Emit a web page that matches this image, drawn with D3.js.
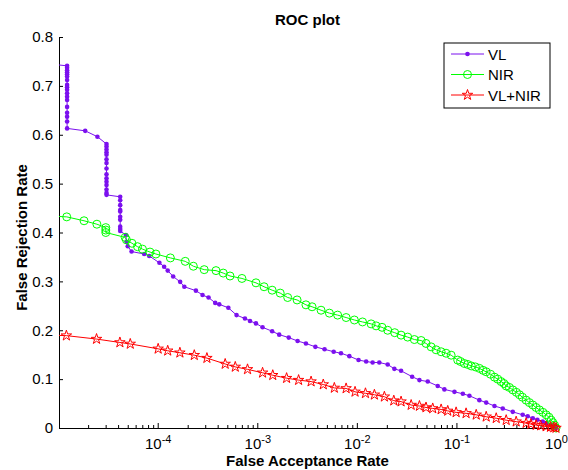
<!DOCTYPE html>
<html>
<head>
<meta charset="utf-8">
<script src="https://cdn.jsdelivr.net/npm/d3@7"></script>
<style>
  body { margin: 0; background: #fff; }
  svg { display: block; font-family: "Liberation Sans", Arial, sans-serif; }
</style>
</head>
<body>
<script>
// ---- data ----
var vlFar = [8e-6,
  1.23e-5, 1.23e-5, 1.23e-5, 1.23e-5, 1.23e-5, 1.23e-5, 1.23e-5, 1.23e-5, 1.23e-5,
  1.23e-5, 1.23e-5, 1.23e-5, 1.23e-5, 1.23e-5, 1.23e-5, 1.23e-5, 1.23e-5, 1.23e-5,
  1.87e-5, 2.48e-5,
  3.06e-5, 3.06e-5, 3.06e-5, 3.06e-5, 3.06e-5, 3.06e-5, 3.06e-5, 3.06e-5, 3.06e-5,
  3.06e-5, 3.06e-5, 3.06e-5, 3.06e-5, 3.06e-5, 3.06e-5,
  4.2e-5, 4.2e-5, 4.2e-5, 4.2e-5, 4.2e-5, 4.2e-5, 4.2e-5, 4.2e-5, 4.2e-5, 4.2e-5,
  4.79e-5, 4.86e-5, 5.0e-5, 5.46e-5, 7.31e-5, 8.22e-5, 1.04e-4, 1.16e-4, 1.26e-4,
  1.43e-4, 1.68e-4, 1.85e-4, 2.42e-4, 2.82e-4, 3.24e-4, 3.78e-4, 4.15e-4, 5.12e-4,
  6.19e-4, 7.52e-4, 8.45e-4, 9.7e-4, 1.13e-3, 1.41e-3, 1.66e-3, 2.07e-3, 2.54e-3,
  3.08e-3, 3.83e-3, 4.74e-3, 5.85e-3, 6.93e-3, 8.41e-3, 1.04e-2, 1.24e-2, 1.44e-2,
  1.68e-2, 2.04e-2, 2.38e-2, 2.78e-2, 3.59e-2, 4.25e-2, 5.15e-2, 6.49e-2, 7.57e-2,
  9.55e-2, 0.116, 0.135, 0.170, 0.199, 0.241, 0.292, 0.368, 0.463, 0.52, 0.585,
  0.65, 0.736, 0.8, 0.895, 0.93, 0.966, 1];
var vlFrr = [0.745,
  0.741, 0.737, 0.732, 0.728, 0.724, 0.719, 0.712, 0.702, 0.697,
  0.692, 0.685, 0.678, 0.671, 0.657, 0.645, 0.637, 0.627, 0.613,
  0.608, 0.596,
  0.581, 0.576, 0.570, 0.564, 0.559, 0.550, 0.542, 0.531, 0.519,
  0.511, 0.504, 0.497, 0.488, 0.481, 0.477,
  0.473, 0.466, 0.456, 0.446, 0.443, 0.432, 0.426, 0.412, 0.407, 0.403,
  0.395, 0.381, 0.372, 0.361, 0.356, 0.352, 0.338, 0.330, 0.322,
  0.310, 0.299, 0.289, 0.281, 0.272, 0.267, 0.256, 0.253, 0.246,
  0.231, 0.224, 0.219, 0.214, 0.206, 0.198, 0.191, 0.185, 0.178,
  0.173, 0.166, 0.161, 0.156, 0.153, 0.147, 0.139, 0.136, 0.134,
  0.134, 0.130, 0.121, 0.117, 0.105, 0.098, 0.095, 0.086, 0.079,
  0.074, 0.070, 0.066, 0.057, 0.052, 0.045, 0.040, 0.033, 0.027, 0.024, 0.020,
  0.017, 0.013, 0.010, 0.006, 0.004, 0.002, 0];

var nirFar = [8e-6,
  1.22e-5, 1.82e-5, 2.45e-5, 3.01e-5, 3.01e-5, 3.01e-5, 4.71e-5, 4.85e-5, 5.51e-5,
  6.27e-5, 7.03e-5, 8.36e-5, 9.59e-5, 1.34e-4, 1.89e-4, 2.28e-4, 2.93e-4, 3.85e-4,
  4.55e-4, 5.32e-4, 7.01e-4, 9.7e-4, 1.17e-3, 1.41e-3, 1.70e-3, 2.02e-3, 2.51e-3,
  3.08e-3, 3.55e-3, 4.37e-3, 5.30e-3, 6.41e-3, 7.80e-3, 9.44e-3, 1.14e-2, 1.39e-2,
  1.56e-2, 1.79e-2, 2.04e-2, 2.4e-2, 2.78e-2, 3.24e-2, 3.78e-2, 4.42e-2, 4.95e-2,
  5.57e-2, 6.25e-2, 7.02e-2, 7.87e-2, 8.85e-2, 0.103, 0.11, 0.120, 0.13, 0.141,
  0.155, 0.170, 0.185, 0.199, 0.22, 0.241, 0.26, 0.281, 0.30, 0.316, 0.34, 0.368,
  0.40, 0.430, 0.46, 0.501, 0.54, 0.585, 0.63, 0.682, 0.74, 0.796, 0.85, 0.895,
  0.93, 0.966, 1];
var nirFrr = [0.434,
  0.432, 0.424, 0.417, 0.410, 0.405, 0.400, 0.390, 0.385, 0.378,
  0.371, 0.366, 0.360, 0.356, 0.348, 0.341, 0.331, 0.324, 0.322,
  0.317, 0.311, 0.306, 0.297, 0.289, 0.282, 0.276, 0.267, 0.262,
  0.252, 0.248, 0.241, 0.235, 0.231, 0.226, 0.221, 0.217, 0.213,
  0.209, 0.206, 0.200, 0.195, 0.190, 0.186, 0.181, 0.179, 0.173,
  0.166, 0.160, 0.156, 0.153, 0.149, 0.139, 0.136, 0.132, 0.130, 0.127,
  0.125, 0.122, 0.118, 0.115, 0.110, 0.104, 0.100, 0.095, 0.091, 0.086, 0.083, 0.078,
  0.073, 0.068, 0.063, 0.057, 0.052, 0.047, 0.042, 0.037, 0.032, 0.027, 0.022, 0.016,
  0.011, 0.006, 0];

var fusedFar = [8e-6,
  1.21e-5, 2.43e-5, 4.17e-5, 5.30e-5, 1.01e-4, 1.26e-4, 1.67e-4, 2.33e-4, 3.12e-4,
  4.76e-4, 6.01e-4, 7.98e-4, 1.13e-3, 1.43e-3, 1.97e-3, 2.60e-3, 3.47e-3, 4.60e-3,
  5.94e-3, 7.80e-3, 9.59e-3, 1.22e-2, 1.50e-2, 1.89e-2, 2.35e-2, 2.78e-2, 3.51e-2,
  4.25e-2, 4.95e-2, 5.78e-2, 7.02e-2, 8.18e-2, 9.93e-2, 0.125, 0.158, 0.199, 0.251,
  0.316, 0.398, 0.501, 0.56, 0.632, 0.7, 0.796, 0.88, 0.95, 1];
var fusedFrr = [0.190,
  0.189, 0.182, 0.175, 0.172, 0.162, 0.158, 0.154, 0.149, 0.143,
  0.131, 0.125, 0.120, 0.113, 0.108, 0.102, 0.098, 0.095, 0.089,
  0.082, 0.081, 0.074, 0.071, 0.068, 0.064, 0.056, 0.054, 0.047,
  0.045, 0.042, 0.040, 0.038, 0.035, 0.032, 0.030, 0.027, 0.023, 0.020,
  0.016, 0.013, 0.010, 0.008, 0.006, 0.005, 0.003, 0.002, 0.001, 0];

var yTicks = [0, 0.1, 0.2, 0.3, 0.4, 0.5, 0.6, 0.7, 0.8];
var xTicks = [1e-4, 1e-3, 1e-2, 1e-1, 1];
var seriesNames = ["VL", "NIR", "VL+NIR"];

// ---- layout ----
var W = 568, H = 470;
var margin = {top: 37, right: 12, bottom: 42, left: 59},
    width = W - margin.left - margin.right,
    height = H - margin.top - margin.bottom;

var x = d3.scaleLog().domain([1.02e-5, 1]).range([0, width]);
var y = d3.scaleLinear().domain([0, 0.8]).range([height, 0]);

var svg = d3.select("body").append("svg")
    .attr("width", W)
    .attr("height", H);

svg.append("defs").append("clipPath").attr("id", "clip")
  .append("rect")
    .attr("x", 0).attr("y", -20)
    .attr("width", width + 20).attr("height", height + 30);

var g = svg.append("g")
    .attr("transform", "translate(" + margin.left + "," + margin.top + ")");

// minor ticks on the log axis
var minor = [];
for (var e = -5; e < 0; e++) {
  for (var m = 2; m <= 9; m++) {
    var v = m * Math.pow(10, e);
    if (v >= x.domain()[0]) minor.push(v);
  }
}

g.append("g")
    .attr("transform", "translate(0," + height + ")")
    .call(d3.axisBottom(x).tickValues(minor).tickSizeInner(-3).tickSizeOuter(0).tickFormat(""))
    .call(function(s) { s.select(".domain").remove(); });

var xAxis = g.append("g")
    .attr("transform", "translate(0," + height + ")")
    .call(d3.axisBottom(x).tickValues(xTicks).tickSizeInner(-5).tickSizeOuter(0).tickPadding(10)
      .tickFormat(function(d) { return Math.round(Math.log10(d)); }));

xAxis.selectAll("text").each(function(d) {
  var t = d3.select(this), ex = Math.round(Math.log10(d));
  t.text(null).attr("font-size", 15);
  t.append("tspan").text("10");
  t.append("tspan").attr("dy", "-0.55em").attr("font-size", 11).text(ex);
});

var yAxis = g.append("g")
    .call(d3.axisLeft(y).tickValues(yTicks).tickSizeInner(-4).tickSizeOuter(0).tickPadding(6)
      .tickFormat(function(d) { return d === 0 ? "0" : d3.format(".1f")(d); }));
yAxis.selectAll("text").attr("font-size", 15);

svg.selectAll(".domain").attr("stroke", "#000");
svg.selectAll(".tick line").attr("stroke", "#000");
svg.selectAll(".tick text").attr("fill", "#000").attr("font-family", "Liberation Sans, Arial, sans-serif");

// ---- series ----
var colors = ["#7b10ee", "#00ff00", "#ff0000"];
var series = [
  d3.zip(vlFar, vlFrr),
  d3.zip(nirFar, nirFrr),
  d3.zip(fusedFar, fusedFrr)
];

var line = d3.line()
    .x(function(d) { return x(d[0]); })
    .y(function(d) { return y(d[1]); });

var star = d3.symbol().type(d3.symbolStar).size(34);

var plot = g.append("g").attr("clip-path", "url(#clip)");

function drawMarker(sel, i) {
  if (i === 0) {
    sel.append("circle").attr("r", 2.3).attr("fill", colors[0]);
  } else if (i === 1) {
    sel.append("circle").attr("r", 4).attr("fill", "none")
      .attr("stroke", colors[1]).attr("stroke-width", 1);
  } else {
    sel.append("path").attr("d", star).attr("fill", "none")
      .attr("stroke", colors[2]).attr("stroke-width", 1);
  }
}

series.forEach(function(data, i) {
  plot.append("path")
      .datum(data)
      .attr("fill", "none")
      .attr("stroke", colors[i])
      .attr("stroke-width", 1)
      .attr("d", line);

  plot.append("g").selectAll("g")
      .data(data)
      .enter().append("g")
      .attr("transform", function(d) { return "translate(" + x(d[0]) + "," + y(d[1]) + ")"; })
      .each(function() { drawMarker(d3.select(this), i); });
});

// ---- title and labels ----
svg.append("text")
    .attr("x", margin.left + width / 2).attr("y", 25)
    .attr("text-anchor", "middle").attr("font-size", 15).attr("font-weight", "bold")
    .text("ROC plot");

svg.append("text")
    .attr("x", margin.left + width / 2).attr("y", 466)
    .attr("text-anchor", "middle").attr("font-size", 15).attr("font-weight", "bold")
    .text("False Acceptance Rate");

svg.append("text")
    .attr("transform", "translate(27," + (margin.top + height / 2 + 5) + ") rotate(-90)")
    .attr("text-anchor", "middle").attr("font-size", 15).attr("font-weight", "bold")
    .text("False Rejection Rate");

// ---- legend ----
var legend = svg.append("g").attr("transform", "translate(444,43)");
legend.append("rect")
    .attr("width", 106).attr("height", 65)
    .attr("fill", "#fff").attr("stroke", "#000").attr("stroke-width", 1);

seriesNames.forEach(function(name, i) {
  var row = legend.append("g").attr("transform", "translate(0," + (11 + i * 20.5) + ")");
  row.append("line")
      .attr("x1", 7).attr("x2", 40)
      .attr("stroke", colors[i]).attr("stroke-width", 1);
  drawMarker(row.append("g").attr("transform", "translate(23.5,0)"), i);
  row.append("text")
      .attr("x", 44).attr("y", 5.5)
      .attr("font-size", 15)
      .text(name);
});
</script>
</body>
</html>
